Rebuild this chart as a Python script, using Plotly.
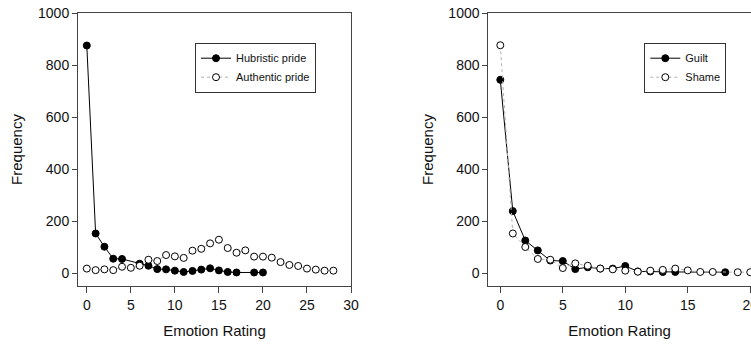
import plotly.graph_objects as go

# ---- Data ----
hubristic_x = [0, 1, 2, 3, 4, 6, 7, 8, 9, 10, 11, 12, 13, 14, 15, 16, 17, 19, 20]
hubristic_y = [875, 152, 101, 55, 54, 36, 28, 15, 14, 9, 4, 8, 13, 18, 10, 4, 2, 2, 2]

authentic_x = list(range(0, 29))
authentic_y = [17, 11, 14, 11, 24, 20, 28, 51, 46, 69, 64, 58, 86, 93, 114, 128,
               96, 78, 87, 63, 63, 59, 42, 31, 27, 17, 13, 9, 9]

guilt_x = [0, 1, 2, 3, 4, 5, 6, 7, 8, 9, 10, 11, 12, 13, 14, 18]
guilt_y = [743, 238, 125, 87, 48, 46, 15, 22, 17, 17, 27, 6, 6, 4, 4, 3]

shame_x = [0, 1, 2, 3, 4, 5, 6, 7, 8, 9, 10, 11, 12, 13, 14, 15, 16, 17, 19, 20]
shame_y = [876, 152, 100, 54, 51, 19, 37, 28, 17, 14, 9, 5, 9, 12, 17, 10, 4, 4, 3, 3]

x_ticks_left = [0, 5, 10, 15, 20, 25, 30]
x_ticks_right = [0, 5, 10, 15, 20]
y_ticks = [0, 200, 400, 600, 800, 1000]

W, H = 751, 347
FONT = "Liberation Sans, Arial, sans-serif"
AXC = "#444444"

def px_x(p):
    return p / W

def px_y(p):
    return 1 - p / H

filled = dict(symbol="circle", size=7, color="black", line=dict(color="black", width=1))
opened = dict(symbol="circle", size=7, color="white", line=dict(color="black", width=1))

fig = go.Figure()
fig.add_trace(go.Scatter(x=hubristic_x, y=hubristic_y, mode="lines+markers",
                         name="Hubristic pride", line=dict(color="black", width=1),
                         marker=filled, xaxis="x", yaxis="y", legend="legend"))
fig.add_trace(go.Scatter(x=authentic_x, y=authentic_y, mode="lines+markers",
                         name="Authentic pride", line=dict(color="#b0b0b0", width=1, dash="dot"),
                         marker=opened, xaxis="x", yaxis="y", legend="legend"))
fig.add_trace(go.Scatter(x=guilt_x, y=guilt_y, mode="lines+markers",
                         name="Guilt", line=dict(color="black", width=1),
                         marker=filled, xaxis="x2", yaxis="y2", legend="legend2"))
fig.add_trace(go.Scatter(x=shame_x, y=shame_y, mode="lines+markers",
                         name="Shame", line=dict(color="#b0b0b0", width=1, dash="dot"),
                         marker=opened, xaxis="x2", yaxis="y2", legend="legend2"))

ydom = [px_y(286), px_y(13)]

def xaxis(domain, rng, ticks, anchor):
    return dict(domain=domain, range=rng, tickvals=ticks, anchor=anchor,
                automargin=False, ticklabeloverflow="allow",
                showline=True, linecolor=AXC, linewidth=1, mirror=True,
                ticks="outside", ticklen=6, tickcolor=AXC, showgrid=False, zeroline=False,
                tickfont=dict(family=FONT, size=14, color="#111"),
                title=dict(text="Emotion Rating", font=dict(family=FONT, size=15, color="#111"),
                           standoff=13))

def yaxis(anchor, mirror):
    return dict(domain=ydom, range=[-50, 1000], tickvals=y_ticks, anchor=anchor,
                automargin=False, ticklabeloverflow="allow",
                showline=True, linecolor=AXC, linewidth=1, mirror=mirror,
                ticks="outside", ticklen=5, tickcolor=AXC, showgrid=False, zeroline=False,
                tickfont=dict(family=FONT, size=14, color="#111"),
                title=dict(text="Frequency", font=dict(family=FONT, size=15, color="#111"),
                           standoff=11))

legend_common = dict(bgcolor="white", bordercolor="#333", borderwidth=1,
                     font=dict(family=FONT, size=11, color="#111"),
                     xanchor="left", yanchor="top", itemwidth=30, tracegroupgap=0)

fig.update_layout(
    width=W, height=H, margin=dict(l=0, r=0, t=0, b=0),
    paper_bgcolor="white", plot_bgcolor="white",
    xaxis=xaxis([px_x(78), px_x(351)], [-1, 30], x_ticks_left, "y"),
    yaxis=yaxis("x", True),
    xaxis2=xaxis([px_x(488.3), 1.0], [-0.96, 20.06], x_ticks_right, "y2"),
    yaxis2=yaxis("x2", False),
    legend=dict(x=px_x(195), y=px_y(42.7), **legend_common),
    legend2=dict(x=px_x(644.3), y=px_y(42.7), **legend_common),
    showlegend=True,
)

# remove the browser's default 8px body margin so the figure fills the window
fig.write_html("out.html",
               config={"displayModeBar": False},
               post_script="document.body.style.margin='0';document.body.style.overflow='hidden';")
